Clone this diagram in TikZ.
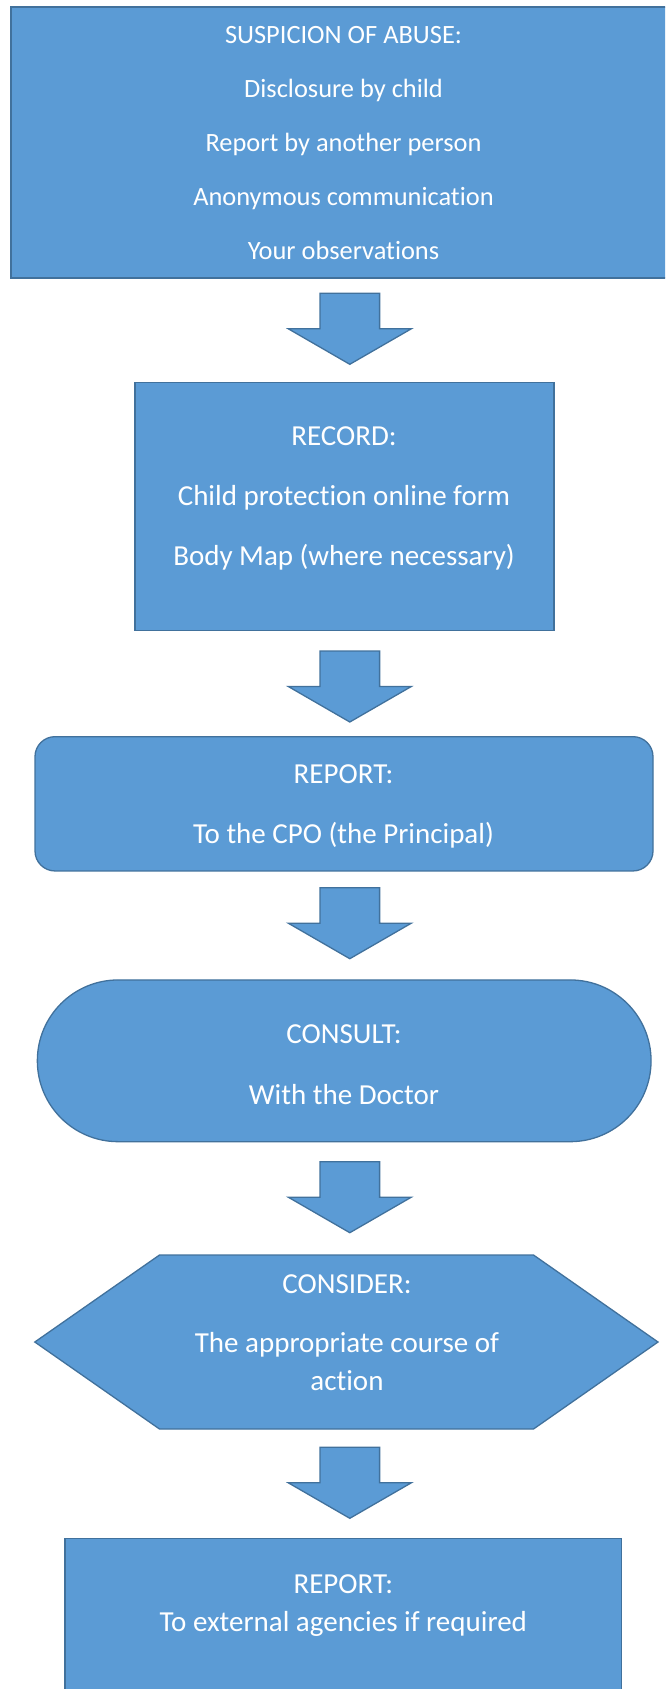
\documentclass[tikz,border=0pt]{standalone}
\usepackage{fontspec}
\setmainfont{Carlito}[Ligatures=NoCommon]
\usepackage{tikz}
\usetikzlibrary{positioning}

\definecolor{boxfill}{HTML}{5B9BD5}
\definecolor{boxline}{HTML}{41719C}

\tikzset{
  box/.style={draw=boxline, fill=boxfill, line width=1.3pt, inner sep=0pt},
  txt/.style={text=white, anchor=base, inner sep=0pt, font=\fontsize{29}{35}\selectfont},
  smalltxt/.style={txt, font=\fontsize{26.4}{32}\selectfont},
  blockarrow/.pic={
    \path[box] (-29.8,0) -- (29.8,0) -- (29.8,35.5) -- (61.5,35.5) -- (0,71)
      -- (-61.5,35.5) -- (-29.8,35.5) -- cycle;
  }
}

\begin{document}
\begin{tikzpicture}[x=1pt, y=-1pt]
\useasboundingbox (0,0) rectangle (665,1689);
\clip (0,0) rectangle (665,1689);

% boxes %
\node[box, minimum width=665, minimum height=271] (suspicion) at (343.4,142.5) {};
\node[box, minimum width=419, minimum height=248] (record) at (344.5,506.7) {};
\node[box, rounded corners=20, minimum width=618, minimum height=134.3] (report) at (344,803.8) {};
\node[box, rounded corners=80.8, minimum width=613.7, minimum height=161.7] (consult) at (344.2,1060.8) {};
\draw[box] (34.8,1342) -- (159.5,1255) -- (533.5,1255) -- (658,1342)
  -- (533.5,1429) -- (159.5,1429) -- cycle;
\coordinate (consider) at (346.4,1342);
\node[box, anchor=north, minimum width=556.5, minimum height=190] (external) at (343.3,1537.7) {};

% arrows %
\pic at (349.8,293.3) {blockarrow};
\pic at (349.8,651) {blockarrow};
\pic at (349.8,887.7) {blockarrow};
\pic at (349.8,1161.7) {blockarrow};
\pic at (349.8,1447.3) {blockarrow};

% texts %

%suspicion%
\node[smalltxt] (s0) at (343.5,43.3) {SUSPICION OF ABUSE:};
\node[smalltxt] (s1) at (343.5,97.3) {Disclosure by child};
\node[smalltxt] (s2) at (343.5,151.7) {Report by another person};
\node[smalltxt] (s3) at (343.5,205) {Anonymous communication};
\node[smalltxt] (s4) at (343.5,259) {Your observations};

%record%
\node[txt] (r0) at (344,445) {RECORD:};
\node[txt] (r1) at (344,505.7) {Child protection online form};
\node[txt] (r2) at (344,565) {Body Map (where necessary)};

%report%
\node[txt] (p0) at (343.5,783.3) {REPORT:};
\node[txt] (p1) at (343.5,843.3) {To the CPO (the Principal)};

%consult%
\node[txt] (c0) at (344,1043.3) {CONSULT:};
\node[txt] (c1) at (344,1104) {With the Doctor};

%consider%
\node[txt] (d0) at (347,1293.3) {CONSIDER:};
\node[txt] (d1) at (347,1352.7) {The appropriate course of};
\node[txt] (d2) at (347,1390.7) {action};

%external%
\node[txt] (e0) at (343.3,1593.3) {REPORT:};
\node[txt] (e1) at (343.3,1631) {To external agencies if required};

\end{tikzpicture}
\end{document}
